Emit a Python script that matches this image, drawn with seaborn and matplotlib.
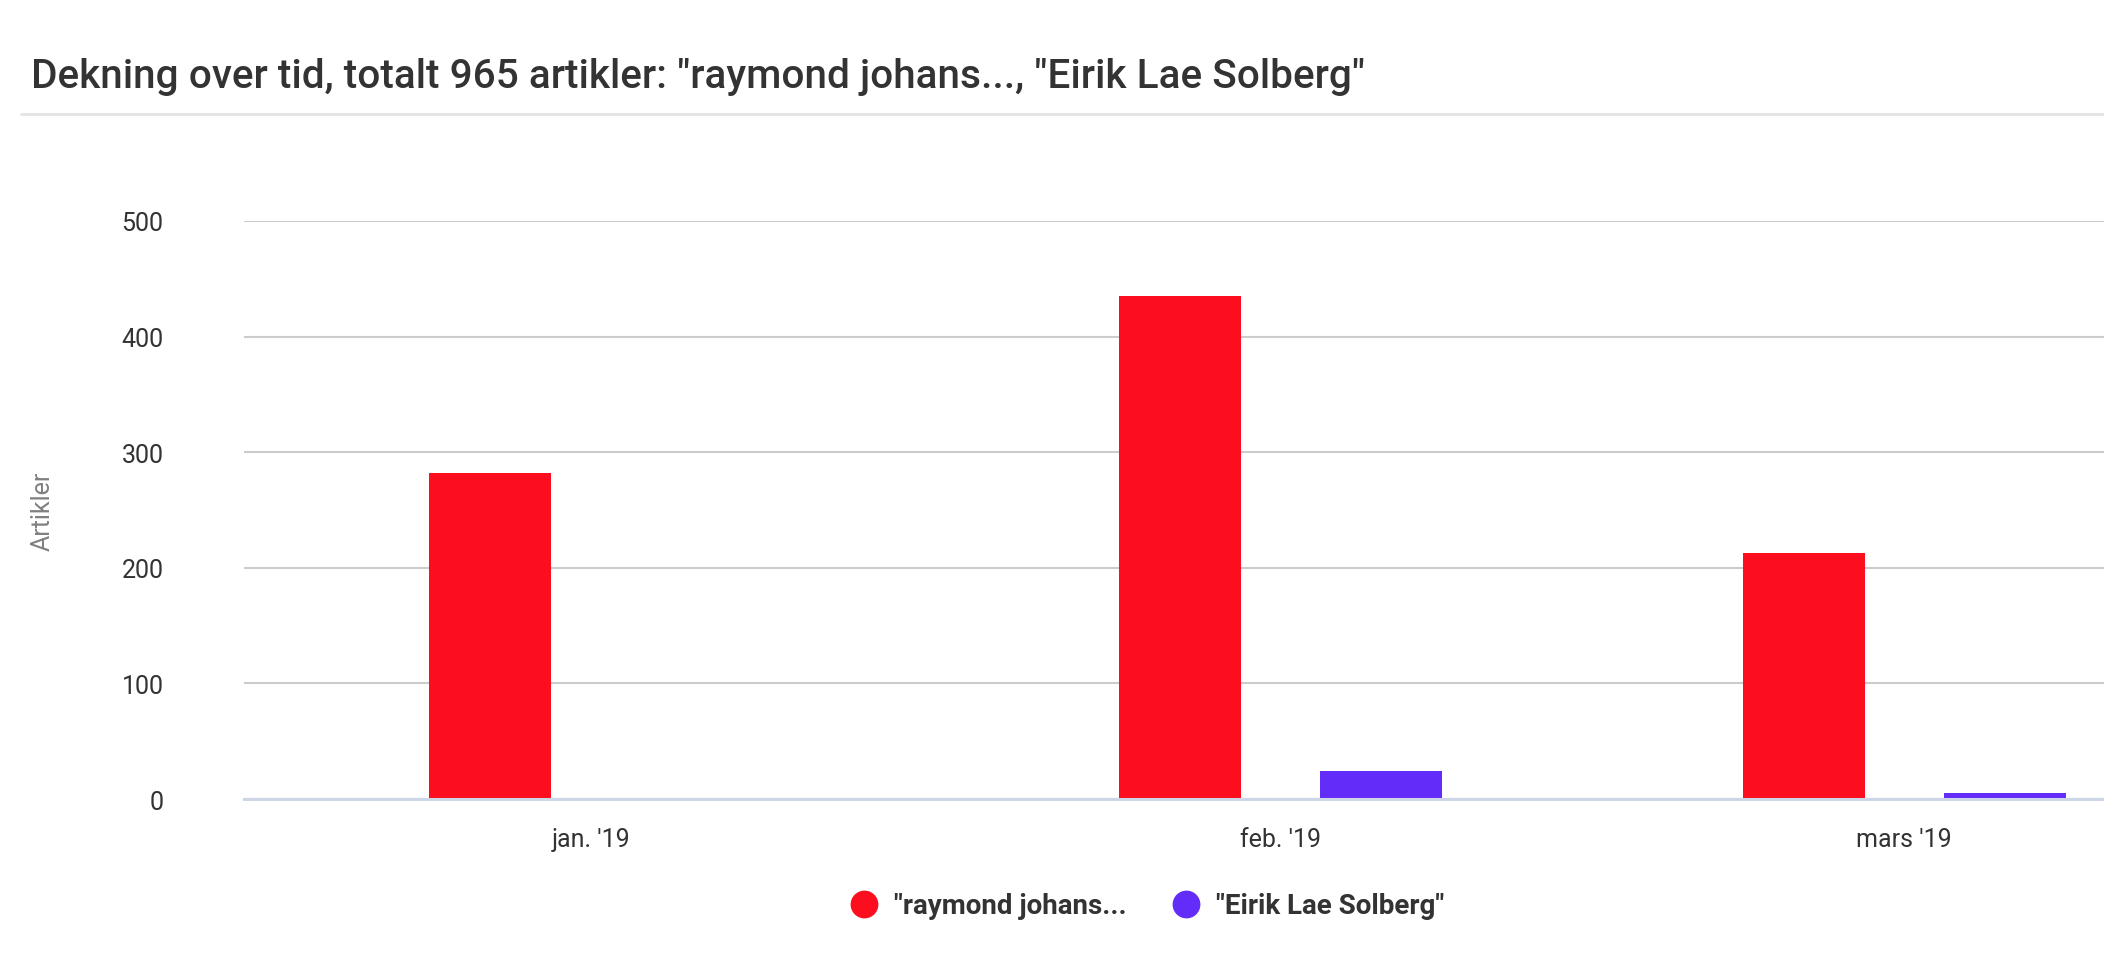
import pandas as pd
import matplotlib
matplotlib.use("Agg")
import matplotlib.pyplot as plt
from matplotlib.lines import Line2D
import seaborn as sns

# Data
months = ["jan. '19", "feb. '19", "mars '19"]
month_starts = ["2019-01-01", "2019-02-01", "2019-03-01"]
series_names = ['"raymond johans...', '"Eirik Lae Solberg"']
raymond = [282, 435, 213]
eirik = [0, 24, 5]
colors = ["#fd0e1f", "#632cf8"]

title = 'Dekning over tid, totalt 965 artikler: "raymond johans..., "Eirik Lae Solberg"'

# Day offsets from the first month (time axis, so months are not evenly spaced)
dates = pd.to_datetime(month_starts)
days = list((dates - dates[0]).days)

df = pd.DataFrame({
    "day": days * 2,
    "artikler": raymond + eirik,
    "serie": [series_names[0]] * 3 + [series_names[1]] * 3,
})

sns.set_style("white")
plt.rcParams["font.family"] = ["Roboto", "DejaVu Sans"]

fig = plt.figure(figsize=(21.04, 9.62), dpi=100)
ax = fig.add_axes([244 / 2104, 1 - 800 / 962, 1 - 244 / 2104, 578 / 962])

sns.barplot(data=df, x="day", y="artikler", hue="serie", hue_order=series_names,
            palette=dict(zip(series_names, colors)), native_scale=True,
            width=0.645, gap=0.393, saturation=1, linewidth=0, legend=False, ax=ax)

ax.set_xlim(-15.57, 67.98)
ax.set_ylim(0, 500)
ax.set_xticks(days)
ax.set_xticklabels(months)
ax.set_yticks([0, 100, 200, 300, 400, 500])
ax.tick_params(axis="y", length=0, pad=58, labelsize=18, labelcolor="#333333")
ax.tick_params(axis="x", length=0, pad=20, labelsize=18, labelcolor="#333333")

ax.set_xlabel("")
ax.set_ylabel("Artikler", fontsize=18, color="#808080")
ax.yaxis.set_label_coords(-0.102, 0.5)

ax.yaxis.grid(True, color="#cccccc", linewidth=1.5)
ax.set_axisbelow(True)
for side in ["top", "right", "left"]:
    ax.spines[side].set_visible(False)
ax.spines["bottom"].set_color("#ccd6e6")
ax.spines["bottom"].set_linewidth(2.2)

# Title and separator
fig.text(31 / 2104, 1 - 77 / 962, title, fontsize=29.2, fontweight="medium",
         color="#333333", va="center", ha="left")
fig.add_artist(Line2D([21 / 2104, 1], [1 - 115 / 962] * 2, color="#e3e3e3", linewidth=2))

# Legend
handles = [Line2D([], [], marker="o", linestyle="none", markersize=19,
                  markerfacecolor=c, markeredgecolor=c) for c in colors]
fig.legend(handles, series_names, loc="center", bbox_to_anchor=(0.5442, 0.0572),
           ncol=2, frameon=False, prop={"size": 20, "weight": "bold"},
           labelcolor="#333333", handlelength=1.3, handletextpad=0.42,
           columnspacing=1.5)

fig.savefig("out.png", dpi=100)
